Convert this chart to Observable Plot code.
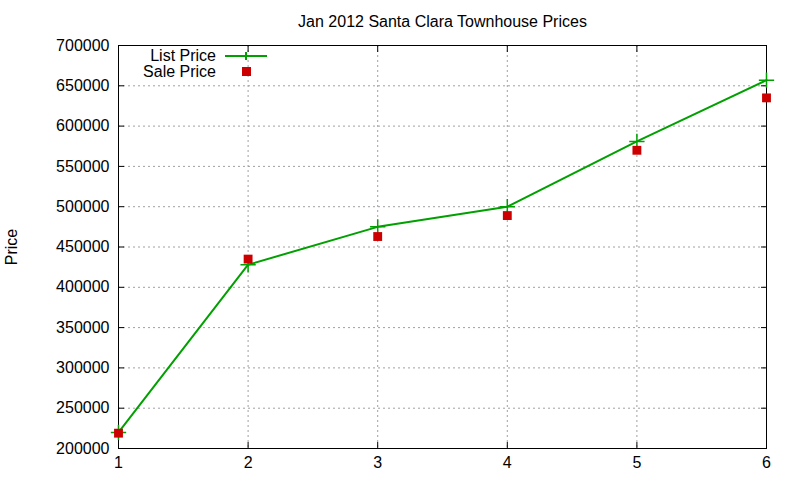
<!DOCTYPE html>
<html>
<head>
<meta charset="utf-8">
<script src="https://cdn.jsdelivr.net/npm/d3@7"></script>
<script src="https://cdn.jsdelivr.net/npm/@observablehq/plot@0.6"></script>
<style>
  body { margin: 0; background: #fff; }
  #chart { width: 800px; height: 480px; }
</style>
</head>
<body>
<div id="chart"></div>
<script>
const months = [1, 2, 3, 4, 5, 6];
const listPrice = [220000, 428000, 475000, 500000, 581000, 657000];
const salePrice = [219000, 435000, 463000, 489000, 570000, 635000];
const yTicks = [200000, 250000, 300000, 350000, 400000, 450000, 500000, 550000, 600000, 650000, 700000];
const xTicks = [1, 2, 3, 4, 5, 6];
const titleText = "Jan 2012 Santa Clara Townhouse Prices";
const yLabel = "Price";
const seriesNames = ["List Price", "Sale Price"];

const green = "#00a000";
const red = "#cc0000";
const FONT = "Liberation Sans, Arial, sans-serif";

const listData = months.map((m, i) => ({month: m, price: listPrice[i]}));
const saleData = months.map((m, i) => ({month: m, price: salePrice[i]}));

const legend = (index, scales, values, dims) => {
  const g = d3.create("svg:g");
  const x0 = dims.marginLeft;
  const y0 = dims.marginTop;
  const txt = (y, s) => g.append("text")
    .attr("x", x0 + 98).attr("y", y).attr("dy", "0.35em")
    .attr("text-anchor", "end").attr("fill", "black")
    .style("font-size", "16px").style("font-family", FONT).text(s);
  txt(y0 + 10, seriesNames[0]);
  g.append("line").attr("x1", x0 + 107).attr("x2", x0 + 149).attr("y1", y0 + 11).attr("y2", y0 + 11)
    .attr("stroke", green).attr("stroke-width", 2);
  g.append("line").attr("x1", x0 + 128).attr("x2", x0 + 128).attr("y1", y0 + 7).attr("y2", y0 + 15)
    .attr("stroke", green).attr("stroke-width", 2);
  txt(y0 + 26, seriesNames[1]);
  g.append("rect").attr("x", x0 + 124).attr("y", y0 + 22).attr("width", 9).attr("height", 9).attr("fill", red);
  return g.node();
};

const chart = Plot.plot({
  width: 800,
  height: 480,
  marginLeft: 118,
  marginRight: 34,
  marginTop: 45,
  marginBottom: 32,
  style: {fontFamily: FONT, fontSize: "16px", background: "white", color: "black"},
  x: {domain: [1, 6]},
  y: {domain: [200000, 700000]},
  marks: [
    Plot.gridY(yTicks, {stroke: "#a0a0a0", strokeOpacity: 1, strokeDasharray: "2,3"}),
    Plot.gridX(xTicks, {stroke: "#a0a0a0", strokeOpacity: 1, strokeDasharray: "2,3"}),
    Plot.axisY(yTicks, {anchor: "left", tickSize: 0, tickPadding: 9, tickFormat: d => String(d), fontSize: 16, label: yLabel, labelAnchor: "center", labelArrow: "none", labelOffset: 113}),
    Plot.axisY(yTicks, {anchor: "left", tickSize: 6, insetLeft: 6, text: null, label: null}),
    Plot.axisY(yTicks, {anchor: "right", tickSize: 6, insetRight: 6, text: null, label: null}),
    Plot.axisX(xTicks, {anchor: "bottom", tickSize: 0, tickPadding: 8, tickFormat: d => String(d), fontSize: 16, label: null}),
    Plot.axisX(xTicks, {anchor: "bottom", tickSize: 6, insetBottom: 6, text: null, label: null}),
    Plot.axisX(xTicks, {anchor: "top", tickSize: 6, insetTop: 6, text: null, label: null}),
    Plot.frame({stroke: "black", strokeWidth: 1}),
    Plot.line(listData, {x: "month", y: "price", stroke: green, strokeWidth: 2}),
    Plot.dot(listData, {x: "month", y: "price", symbol: "plus", r: 5, stroke: green, strokeWidth: 1.5}),
    Plot.dot(saleData, {x: "month", y: "price", symbol: "square", r: 5, fill: red, stroke: "none"}),
    Plot.text([titleText], {frameAnchor: "top", lineAnchor: "middle", dy: -24, fontSize: 16, fill: "black", text: d => d}),
    legend
  ]
});
document.getElementById("chart").appendChild(chart);
</script>
</body>
</html>
